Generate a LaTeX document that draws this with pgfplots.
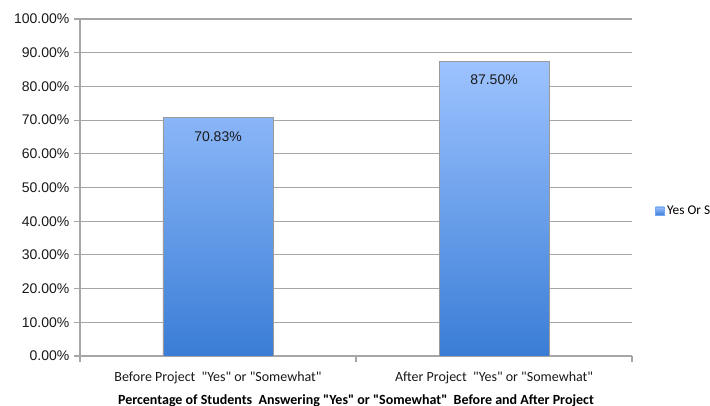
\documentclass[border=0pt]{standalone}
\usepackage{pgfplots}
\pgfplotsset{compat=1.18}
\usepackage{fontspec}
\setmainfont{Liberation Sans}
\newfontfamily\calfont{Carlito}

\definecolor{gridgray}{HTML}{A6A6A6}
\definecolor{bartop}{HTML}{9DC3FF}
\definecolor{barbot}{HTML}{3A7DD6}
\definecolor{baredge}{HTML}{9A9A9A}

\begin{document}
\begin{tikzpicture}[x=0.75pt,y=0.75pt]
\begin{axis}[
  at={(0,0)}, anchor=south west,
  scale only axis,
  width=414pt, height=252.75pt,
  xmin=-0.5, xmax=1.5,
  ymin=0, ymax=100,
  xtick={-0.5,0.5,1.5},
  xticklabels={},
  extra x ticks={0,1},
  extra x tick labels={Before Project\ \ "Yes" or "Somewhat",After Project\ \ "Yes" or "Somewhat"},
  extra x tick style={major tick length=0pt, grid=none,
     tick label style={font=\calfont\fontsize{10.5}{12}\selectfont, yshift=-8pt}},
  ytick={0,10,...,100},
  yticklabel={\pgfmathprintnumber[fixed,fixed zerofill,precision=2]{\tick}\%},
  /pgf/number format/assume math mode=true,
  tick label style={font=\fontsize{10.5}{12}\selectfont, text=black!90},
  ymajorgrids,
  grid style={gridgray, line width=0.8pt},
  axis x line*=bottom,
  axis y line*=left,
  axis line style={gridgray, line width=0.8pt},
  tick style={gridgray, line width=0.8pt},
  major tick length=4.5pt,
  tick align=outside,
  xtick pos=bottom, ytick pos=left,
  xlabel={Percentage of Students\ \ Answering "Yes" or "Somewhat"\ \ Before and After Project},
  xlabel style={font=\calfont\bfseries\fontsize{10.5}{12}\selectfont, yshift=3pt},
  legend style={at={(1.042,0.43)}, anchor=west, draw=none, fill=none,
     font=\calfont\fontsize{10}{12}\selectfont, inner sep=0pt},
  legend image code/.code={\fill[bartop!60!barbot] (0pt,-3.2pt) rectangle (6.4pt,3.2pt);},
  nodes near coords={\pgfmathprintnumber[fixed,fixed zerofill,precision=2]{\pgfplotspointmeta}\%},
  nodes near coords align={below},
  every node near coord/.append style={font=\fontsize{10.5}{12}\selectfont, text=black!90, yshift=-7pt},
]
\addplot[ybar, bar width=82.5pt, draw=baredge, line width=0.4pt,
         top color=bartop, bottom color=barbot]
  coordinates {(0,70.83) (1,87.50)};
\addlegendentry{Yes Or Somewhat}
\end{axis}
\pgfresetboundingbox
\path (-80,-50) rectangle (630,356);
\end{tikzpicture}
\end{document}
